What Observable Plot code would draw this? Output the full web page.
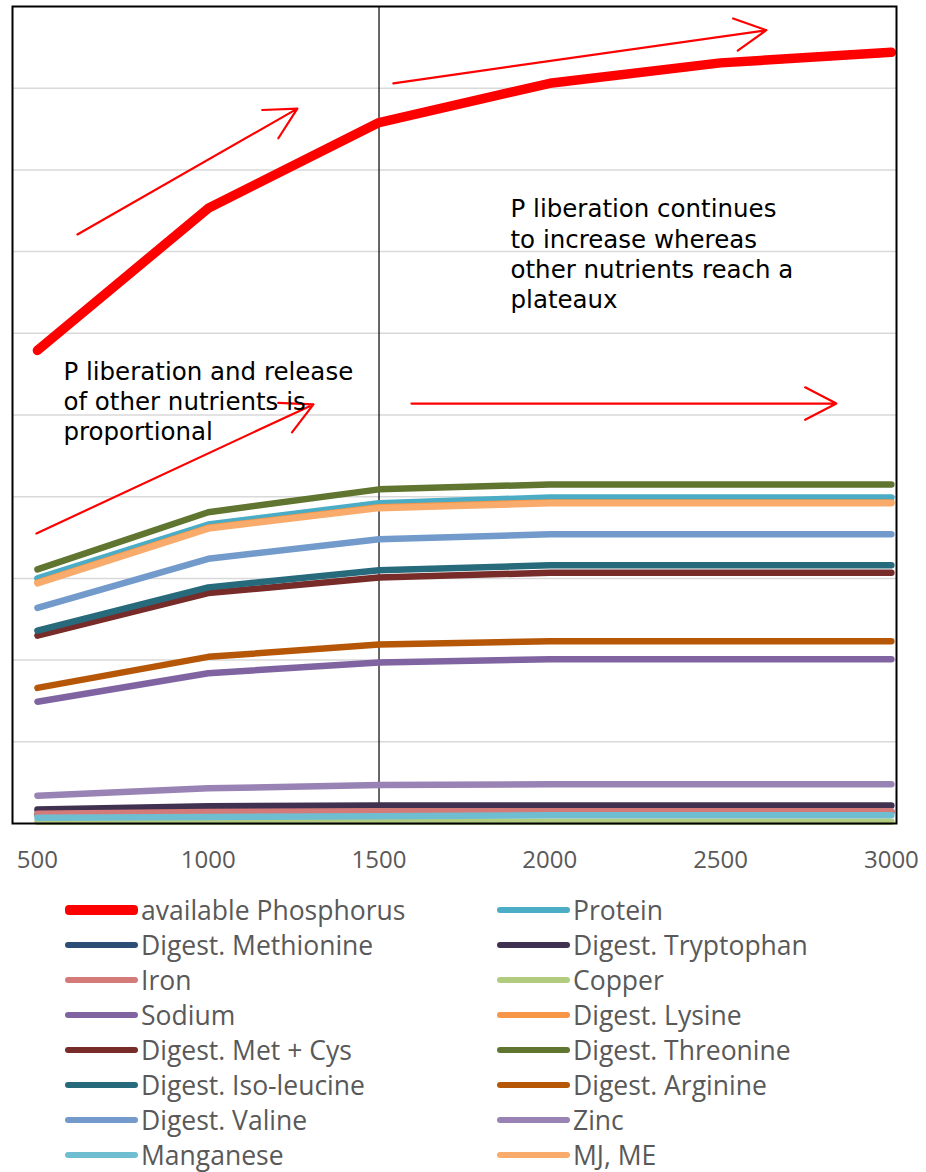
<!DOCTYPE html>
<html>
<head>
<meta charset="utf-8">
<script src="https://cdn.jsdelivr.net/npm/d3@7"></script>
<script src="https://cdn.jsdelivr.net/npm/@observablehq/plot@0.6"></script>
<style>
  html, body { margin: 0; padding: 0; background: #fff; }
  #wrap { position: relative; width: 926px; height: 1172px; }
  #legend { position: relative; width: 926px; height: 292px; font-family: "Open Sans", sans-serif; }
  .item { position: absolute; height: 34px; line-height: 34px; display: flex; align-items: center; color: #595959; font-size: 26.5px; white-space: nowrap; }
  .sw { width: 73px; border-radius: 4px; margin-right: 3px; flex: none; }
</style>
</head>
<body>
<div id="wrap"><div id="chart"></div><div id="legend"></div></div>
<script>
// ---- data ----
const doses = [500, 1000, 1500, 2000, 2500, 3000];
const xTicks = [500, 1000, 1500, 2000, 2500, 3000];
const yGrid = [1, 2, 3, 4, 5, 6, 7, 8, 9];

const seriesNames = [
  "available Phosphorus", "Protein",
  "Digest. Methionine", "Digest. Tryptophan",
  "Iron", "Copper",
  "Sodium", "Digest. Lysine",
  "Digest. Met + Cys", "Digest. Threonine",
  "Digest. Iso-leucine", "Digest. Arginine",
  "Digest. Valine", "Zinc",
  "Manganese", "MJ, ME"
];
const seriesColors = [
  "#FF0000", "#4BACC6",
  "#2C4D75", "#403151",
  "#D47B79", "#B2CC7F",
  "#8064A2", "#F79646",
  "#772C2A", "#5F7530",
  "#276A7C", "#B65708",
  "#729ACA", "#9983B5",
  "#6FBDD1", "#F9AB6B"
];

const phosphorus = [5.79, 7.53, 8.58, 9.06, 9.31, 9.44];
const protein    = [3.00, 3.66, 3.92, 3.99, 3.99, 3.99];
const methionine = [0.11, 0.13, 0.14, 0.14, 0.14, 0.14];
const tryptophan = [0.17, 0.21, 0.22, 0.22, 0.22, 0.22];
const iron       = [0.12, 0.14, 0.15, 0.15, 0.15, 0.15];
const copper     = [0.02, 0.02, 0.02, 0.02, 0.02, 0.02];
const sodium     = [1.49, 1.84, 1.97, 2.01, 2.01, 2.01];
const lysine     = [2.95, 3.62, 3.87, 3.93, 3.93, 3.93];
const metCys     = [2.30, 2.82, 3.01, 3.07, 3.07, 3.07];
const threonine  = [3.11, 3.81, 4.09, 4.15, 4.15, 4.15];
const isoleucine = [2.36, 2.89, 3.10, 3.16, 3.16, 3.16];
const arginine   = [1.66, 2.04, 2.19, 2.23, 2.23, 2.23];
const valine     = [2.64, 3.24, 3.48, 3.54, 3.54, 3.54];
const zinc       = [0.34, 0.43, 0.47, 0.48, 0.48, 0.48];
const manganese  = [0.07, 0.08, 0.09, 0.10, 0.10, 0.10];
const mjMe       = [2.94, 3.61, 3.86, 3.92, 3.92, 3.92];

const seriesValues = [
  phosphorus, protein, methionine, tryptophan, iron, copper, sodium, lysine,
  metCys, threonine, isoleucine, arginine, valine, zinc, manganese, mjMe
];

// annotation arrows (data coordinates)
const arrowX1 = [617, 1542, 497, 1595];
const arrowY1 = [7.21, 9.06, 3.55, 5.14];
const arrowX2 = [1261, 2634, 1308, 2839];
const arrowY2 = [8.75, 9.71, 5.13, 5.14];

const noteText = [
  "P liberation continues\nto increase whereas\nother nutrients reach a\nplateaux",
  "P liberation and release\nof other nutrients is\nproportional"
];
const noteX = [1885, 576];
const noteY = [7.68, 5.69];

// ---- build tables ----
const rows = [];
seriesNames.forEach((name, i) => {
  doses.forEach((d, j) => rows.push({series: name, dose: d, value: seriesValues[i][j], order: i}));
});
const arrows = arrowX1.map((_, i) => ({x1: arrowX1[i], y1: arrowY1[i], x2: arrowX2[i], y2: arrowY2[i]}));
const notes = noteText.map((t, i) => ({text: t, x: noteX[i], y: noteY[i]}));

const chart = Plot.plot({
  width: 926,
  height: 880,
  marginLeft: 12,
  marginRight: 30,
  marginTop: 6,
  marginBottom: 57,
  style: {fontFamily: "Open Sans, sans-serif", background: "white"},
  x: {type: "linear", domain: [427, 3015]},
  y: {domain: [0, 10], axis: null},
  color: {domain: seriesNames, range: seriesColors},
  marks: [
    Plot.ruleY(yGrid, {stroke: "#d9d9d9", strokeWidth: 1.5}),
    Plot.ruleX([1500], {stroke: "black", strokeWidth: 1.2}),
    Plot.line(rows.filter(d => d.order > 0), {
      x: "dose", y: "value", z: "series", stroke: "series",
      strokeWidth: 6.5, strokeLinecap: "round", strokeLinejoin: "round"
    }),
    Plot.line(rows.filter(d => d.order === 0), {
      x: "dose", y: "value", z: "series", stroke: "series",
      strokeWidth: 9.5, strokeLinecap: "round", strokeLinejoin: "round"
    }),
    Plot.arrow(arrows, {
      x1: "x1", y1: "y1", x2: "x2", y2: "y2",
      stroke: "#FF0000", strokeWidth: 2.2, headLength: 24, headAngle: 55, bend: 0
    }),
    Plot.text(notes, {
      x: "x", y: "y", text: "text", textAnchor: "start", lineAnchor: "top",
      fontSize: 24.5, lineHeight: 1.23, fill: "black", fontFamily: "DejaVu Sans"
    }),
    Plot.frame({stroke: "black", strokeWidth: 2}),
    Plot.axisX(xTicks, {
      tickSize: 0, tickPadding: 27, fontSize: 24, fill: "#595959",
      tickFormat: d => String(d), label: null
    })
  ]
});
document.getElementById("chart").appendChild(chart);

// ---- legend ----
const legend = document.getElementById("legend");
seriesNames.forEach((name, i) => {
  const col = i % 2, row = Math.floor(i / 2);
  const item = document.createElement("div");
  item.className = "item";
  item.style.left = (col === 0 ? 65 : 497) + "px";
  item.style.top = (13 + row * 35) + "px";
  const sw = document.createElement("div");
  sw.className = "sw";
  sw.style.background = seriesColors[i];
  sw.style.height = (i === 0 ? 10 : 6) + "px";
  const label = document.createElement("span");
  label.textContent = name;
  item.appendChild(sw);
  item.appendChild(label);
  legend.appendChild(item);
});
</script>
</body>
</html>
